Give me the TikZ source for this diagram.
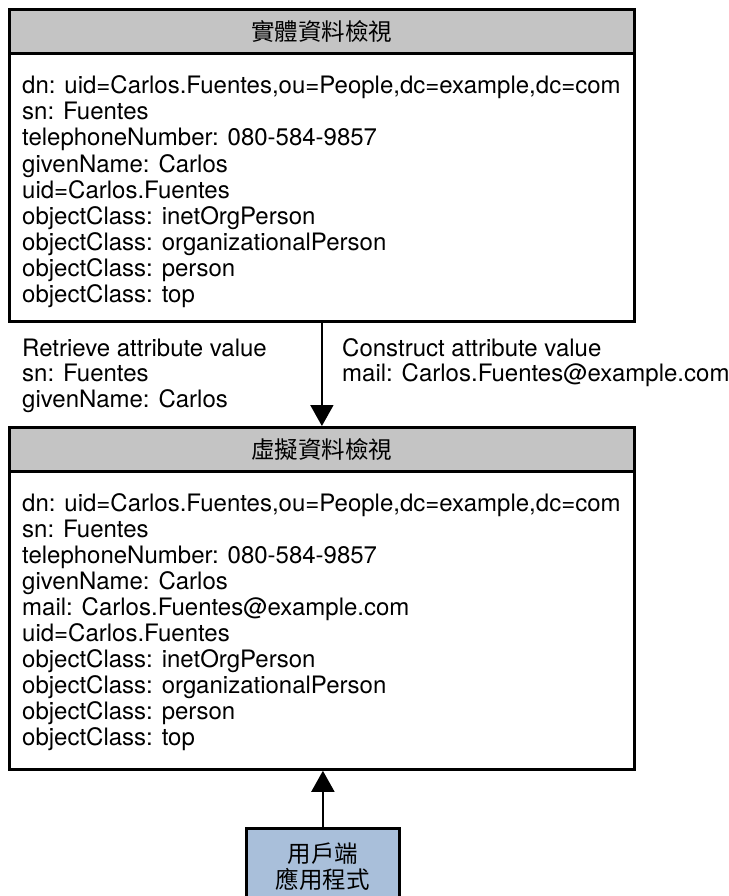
\documentclass[tikz,border=0pt]{standalone}
\usepackage{fontspec}
\setmainfont{TeX Gyre Heros}
\newfontfamily\cjkfont{Noto Sans CJK TC}
\usetikzlibrary{arrows.meta}
\definecolor{headgray}{HTML}{C4C4C4}
\definecolor{clientblue}{HTML}{A9BFDA}
\newcommand\entryfont{\fontsize{24}{26}\selectfont}
\newcommand\headfont{\cjkfont\fontsize{23.5}{25}\selectfont}

\begin{document}
\begin{tikzpicture}[x=1pt,y=-1pt,
  panel/.style={draw=black,line width=2.8pt,anchor=north west,
    minimum width=625pt,inner sep=0pt},
  headbar/.style={panel,fill=headgray,minimum height=44pt,font=\headfont},
  entry/.style={anchor=base west,inner sep=0pt,font=\entryfont},
  flow/.style={line width=1.8pt,-{Triangle[length=21pt,width=23pt]}},
  clientbox/.style={draw=black,line width=2.8pt,fill=clientblue,anchor=north west,
    minimum width=153pt,minimum height=76pt,inner sep=0pt,align=center,
    font={\cjkfont\fontsize{23.5}{26}\selectfont}},
]
\useasboundingbox (0,0) rectangle (728,896);

% physical entry view
\node[panel,minimum height=312pt] (real) at (8,8) {};
\node[headbar] (realhead) at (8,8) {實體資料檢視};
\foreach \t [count=\i from 0] in {%
  {dn: uid=Carlos.Fuentes,ou=People,dc=example,dc=com},
  {sn: Fuentes},
  {telephoneNumber: 080-584-9857},
  {givenName: Carlos},
  {uid=Carlos.Fuentes},
  {objectClass: inetOrgPerson},
  {objectClass: organizationalPerson},
  {objectClass: person},
  {objectClass: top}}
  \node[entry] (real-\i) at (22,94+26*\i) {\t};

% virtual entry view
\node[panel,minimum height=342pt] (virt) at (8,426) {};
\node[headbar] (virthead) at (8,426) {虛擬資料檢視};
\foreach \t [count=\i from 0] in {%
  {dn: uid=Carlos.Fuentes,ou=People,dc=example,dc=com},
  {sn: Fuentes},
  {telephoneNumber: 080-584-9857},
  {givenName: Carlos},
  {mail: Carlos.Fuentes@example.com},
  {uid=Carlos.Fuentes},
  {objectClass: inetOrgPerson},
  {objectClass: organizationalPerson},
  {objectClass: person},
  {objectClass: top}}
  \node[entry] (virt-\i) at (22,511+26*\i) {\t};

% attribute flow labels
\foreach \t [count=\i from 0] in {%
  {Retrieve attribute value},
  {sn: Fuentes},
  {givenName: Carlos}}
  \node[entry] (fetch-\i) at (22,356+25.5*\i) {\t};
\foreach \t [count=\i from 0] in {%
  {Construct attribute value},
  {mail: Carlos.Fuentes@example.com}}
  \node[entry] (build-\i) at (342,356+25.5*\i) {\t};

% client application
\node[clientbox] (client) at (245,827) {用戶端\\應用程式};

% connectors
\draw[flow] (real.south) -- (virt.north);
\draw[flow] (client.north) -- (client.north |- virt.south);
\end{tikzpicture}
\end{document}
